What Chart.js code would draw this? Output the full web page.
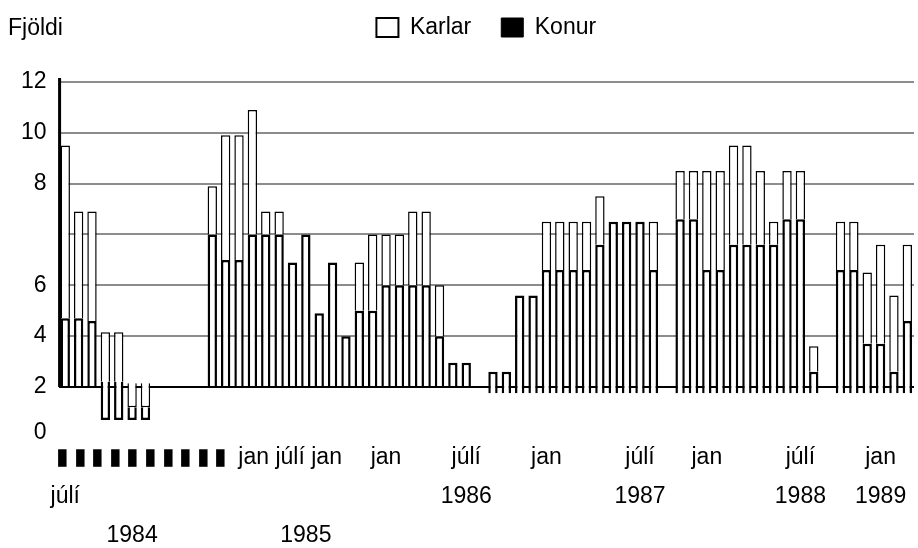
<!DOCTYPE html>
<html lang="is">
<head>
  <meta charset="UTF-8">
  <title>Fjöldi - Karlar og Konur</title>
  <script src="https://cdn.jsdelivr.net/npm/chart.js"></script>
  <style>
    body {
      margin: 0;
      background: #ffffff;
    }
    #wrap {
      width: 918px;
      height: 548px;
      position: relative;
    }
  </style>
</head>
<body>
  <div id="wrap"><canvas id="chart"></canvas></div>

  <script>
    // one slot per month, jan 1984 .. apr 1989
    const months = [
      'jan 84','feb 84','mar 84','apr 84','maí 84','jún 84','júl 84','ágú 84','sep 84','okt 84','nóv 84','des 84',
      'jan 85','feb 85','mar 85','apr 85','maí 85','jún 85','júl 85','ágú 85','sep 85','okt 85','nóv 85','des 85',
      'jan 86','feb 86','mar 86','apr 86','maí 86','jún 86','júl 86','ágú 86','sep 86','okt 86','nóv 86','des 86',
      'jan 87','feb 87','mar 87','apr 87','maí 87','jún 87','júl 87','ágú 87','sep 87','okt 87','nóv 87','des 87',
      'jan 88','feb 88','mar 88','apr 88','maí 88','jún 88','júl 88','ágú 88','sep 88','okt 88','nóv 88','des 88',
      'jan 89','feb 89','mar 89','apr 89'
    ];

    // bar heights as drawn (null = no bar)
    const konur = [
      2.7, 2.7, 2.6, 1.5, 1.5, 0.5, 0.5, null, null, null, null, 6.0,
      5.0, 5.0, 6.0, 6.0, 6.0, 4.9, 6.0, 2.9, 4.9, 2.0, 3.0, 3.0,
      4.0, 4.0, 4.0, 4.0, 2.0, 0.95, 0.95, null, 0.85, 0.85, 3.85, 3.85,
      4.85, 4.85, 4.85, 4.85, 5.85, 6.75, 6.75, 6.75, 4.85, null, 6.85, 6.85,
      4.85, 4.85, 5.85, 5.85, 5.85, 5.85, 6.85, 6.85, 0.85, null, 4.85, 4.85,
      1.95, 1.95, 0.85, 2.85
    ];
    const karlar = [
      6.8, 4.2, 4.3, 1.95, 1.95, 0.95, 0.95, null, null, null, null, 1.9,
      4.9, 4.9, 4.9, 0.9, 0.9, 0, 0, 0, 0, 0, 1.9, 3.0,
      2.0, 2.0, 2.9, 2.9, 2.0, 0, 0, null, 0, 0, 0, 0,
      1.9, 1.9, 1.9, 1.9, 1.9, 0, 0, 0, 1.9, null, 1.9, 1.9,
      3.9, 3.9, 3.9, 3.9, 2.9, 0.9, 1.9, 1.9, 1.0, null, 1.9, 1.9,
      2.8, 3.9, 3.0, 3.0
    ];
    // where each bar starts
    const base = [
      0, 0, 0, -1.3, -1.3, -1.3, -1.3, 0, 0, 0, 0, 0,
      0, 0, 0, 0, 0, 0, 0, 0, 0, 0, 0, 0,
      0, 0, 0, 0, 0, 0, 0, 0, -0.25, -0.25, -0.25, -0.25,
      -0.25, -0.25, -0.25, -0.25, -0.25, -0.25, -0.25, -0.25, -0.25, -0.25, -0.25, -0.25,
      -0.25, -0.25, -0.25, -0.25, -0.25, -0.25, -0.25, -0.25, -0.25, -0.25, -0.25, -0.25,
      -0.25, -0.25, -0.25, -0.25
    ];

    // y axis ticks and the labels printed next to them
    const yTickValues = [-1.8, 0, 2, 4, 6, 8, 10, 12];
    const yTickLabels = ['0', '2', '4', '6', '', '8', '10', '12'];

    // x axis text, by month slot (the blocks are the unreadable month labels)
    const xTickSlots = [0, 5, 10, 18, 24, 30, 36, 43, 48, 55, 61];
    const xTickLabels = [
      ['', 'júlí'], ['', '', '1984'], ['▮\u2009'.repeat(10) + ' jan júlí jan'], ['', '', '1985'],
      ['jan'], ['júlí', '1986'], ['jan'], ['júlí', '1987'], ['jan'], ['júlí', '1988'], ['jan', '1989']
    ];

    const FONT = "'Liberation Sans', Arial, sans-serif";

    const konurBars = konur.map((v, i) => v === null ? null : [base[i], base[i] + v]);
    const karlarBars = karlar.map((v, i) => v === null ? null : [base[i] + konur[i], base[i] + konur[i] + v]);

    // left axis line from 0 to 12, the "Fjöldi" caption, room under the legend
    const extras = {
      id: 'extras',
      beforeInit(chart) {
        const fit = chart.legend.fit;
        chart.legend.fit = function () {
          fit.call(this);
          this.height += 33;
        };
      },
      afterDatasetsDraw(chart) {
        const ctx = chart.ctx;
        const y = chart.scales.y;
        ctx.save();
        ctx.strokeStyle = '#000';
        ctx.lineWidth = 3;
        ctx.beginPath();
        ctx.moveTo(y.right + 1, y.getPixelForValue(12) - 4);
        ctx.lineTo(y.right + 1, y.getPixelForValue(0));
        ctx.stroke();
        ctx.restore();
      },
      afterDraw(chart) {
        const ctx = chart.ctx;
        ctx.save();
        ctx.fillStyle = '#000';
        ctx.font = '23px ' + FONT;
        ctx.textBaseline = 'middle';
        ctx.fillText('Fjöldi', 8, 29);
        ctx.restore();
      }
    };

    new Chart(document.getElementById('chart'), {
      type: 'bar',
      data: {
        labels: months,
        datasets: [
          {
            label: 'Konur',
            data: konurBars,
            backgroundColor: '#ffffff',
            borderColor: '#000000',
            borderWidth: 2.5,
            barPercentage: 0.7,
            categoryPercentage: 1
          },
          {
            label: 'Karlar',
            data: karlarBars,
            backgroundColor: '#ffffff',
            borderColor: '#000000',
            borderWidth: 1.5,
            barPercentage: 0.7,
            categoryPercentage: 1
          }
        ]
      },
      options: {
        responsive: true,
        maintainAspectRatio: false,
        devicePixelRatio: 1,
        animation: false,
        layout: { padding: { left: 9, right: 4, top: -14, bottom: -12 } },
        plugins: {
          tooltip: { enabled: false },
          legend: {
            position: 'top',
            fullSize: false,
            labels: {
              color: '#000',
              font: { family: FONT, size: 23 },
              boxWidth: 22,
              boxHeight: 19,
              padding: 30,
              generateLabels: () => [
                { text: 'Karlar', fillStyle: '#ffffff', strokeStyle: '#000000', lineWidth: 2, datasetIndex: 1 },
                { text: 'Konur', fillStyle: '#000000', strokeStyle: '#000000', lineWidth: 1, datasetIndex: 0 }
              ]
            }
          }
        },
        scales: {
          x: {
            stacked: true,
            grid: { display: false, drawTicks: false, tickLength: 0 },
            border: { display: false },
            ticks: {
              autoSkip: false,
              maxRotation: 0,
              minRotation: 0,
              padding: 5,
              color: '#000',
              font: { family: FONT, size: 23, lineHeight: 1.7 },
              callback: (v, i) => {
                const k = xTickSlots.indexOf(i);
                return k < 0 ? '' : xTickLabels[k];
              }
            }
          },
          y: {
            min: -1.8,
            max: 12,
            stacked: false,
            border: { display: false },
            afterBuildTicks: axis => { axis.ticks = yTickValues.map(v => ({ value: v })); },
            grid: {
              drawTicks: false,
              tickLength: 0,
              lineWidth: 2,
              color: c => c.tick.value < -1 ? 'rgba(0,0,0,0)' : (c.tick.value === 0 ? '#000000' : '#8c8c8c')
            },
            ticks: {
              padding: 12,
              color: '#000',
              font: { family: FONT, size: 23 },
              callback: (v, i) => yTickLabels[i]
            }
          }
        }
      },
      plugins: [extras]
    });
  </script>
</body>
</html>
